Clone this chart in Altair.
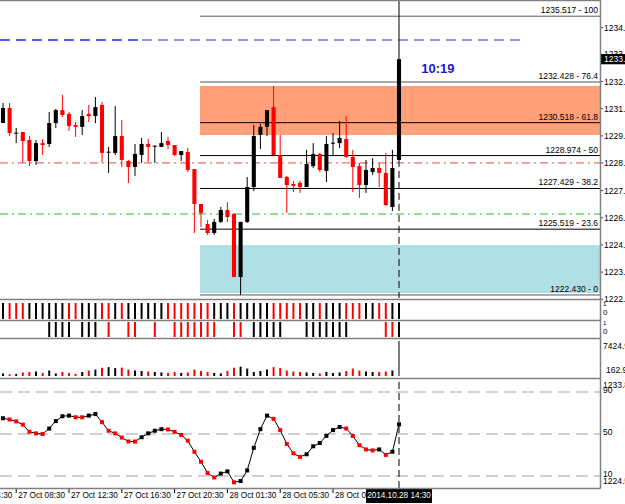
import altair as alt
import pandas as pd

# ---------------- data (M30 bars, index 0..60) ----------------
opens = [1230.50, 1231.21, 1230.03, 1230.08, 1229.71, 1228.72, 1229.56, 1229.52, 1230.50, 1231.11,
         1230.93, 1230.41, 1230.32, 1230.93, 1230.83, 1231.35, 1229.14, 1229.10, 1229.89, 1228.72,
         1228.44, 1229.00, 1229.52, 1229.42, 1229.38, 1229.66, 1229.47, 1229.00, 1229.14, 1228.34,
         1226.70, 1225.76, 1225.34, 1225.86, 1226.42, 1226.23, 1223.27, 1225.86, 1227.50, 1229.94,
         1230.32, 1231.25, 1229.00, 1227.97, 1227.64, 1227.69, 1227.50, 1228.48, 1229.05, 1228.25,
         1229.56, 1229.56, 1229.75, 1228.91, 1228.48, 1227.59, 1228.20, 1228.39, 1228.16, 1226.56,
         1228.77]
highs = [1231.44, 1231.44, 1230.27, 1230.08, 1229.89, 1229.71, 1229.75, 1231.02, 1231.16, 1231.82,
         1231.02, 1230.55, 1231.11, 1231.35, 1231.72, 1231.49, 1229.38, 1231.30, 1230.64, 1228.77,
         1229.52, 1229.80, 1229.75, 1229.44, 1230.08, 1229.85, 1229.47, 1229.19, 1229.33, 1228.34,
         1226.70, 1225.95, 1226.00, 1226.56, 1226.79, 1226.28, 1225.86, 1227.97, 1230.41, 1230.46,
         1231.11, 1232.24, 1229.94, 1228.02, 1227.78, 1227.78, 1229.24, 1229.56, 1229.10, 1229.89,
         1230.03, 1230.60, 1230.83, 1229.24, 1228.63, 1228.77, 1228.86, 1228.63, 1229.10, 1229.24,
         1233.55]
lows = [1230.50, 1229.89, 1229.56, 1228.63, 1228.48, 1228.53, 1229.00, 1229.38, 1230.27, 1230.79,
        1230.13, 1229.85, 1229.94, 1230.55, 1230.50, 1228.67, 1228.16, 1229.00, 1228.44, 1227.69,
        1228.02, 1228.63, 1228.67, 1228.63, 1229.38, 1229.28, 1228.95, 1228.72, 1228.20, 1225.34,
        1225.62, 1225.25, 1225.25, 1225.81, 1225.86, 1223.27, 1222.43, 1225.81, 1227.31, 1229.28,
        1229.89, 1229.00, 1227.92, 1226.28, 1227.26, 1227.22, 1227.50, 1228.39, 1228.20, 1227.73,
        1228.95, 1229.33, 1228.86, 1227.26, 1226.98, 1227.22, 1228.06, 1227.50, 1226.61, 1226.37,
        1228.77]
closes = [1231.21, 1230.03, 1230.05, 1229.66, 1228.72, 1229.56, 1229.47, 1230.50, 1231.11, 1230.88,
          1230.36, 1230.32, 1230.83, 1230.83, 1231.25, 1229.10, 1229.16, 1229.89, 1228.77, 1228.44,
          1229.05, 1229.52, 1229.38, 1229.44, 1229.56, 1229.47, 1229.00, 1229.19, 1228.30, 1226.70,
          1226.28, 1225.34, 1225.86, 1226.42, 1226.09, 1223.27, 1225.86, 1227.50, 1229.89, 1230.32,
          1231.11, 1229.00, 1227.92, 1227.59, 1227.55, 1227.50, 1228.58, 1229.05, 1228.30, 1229.52,
          1229.58, 1229.80, 1228.91, 1228.44, 1227.59, 1228.30, 1228.39, 1228.16, 1226.65, 1228.39,
          1233.50]

fib_levels = [1235.517, 1232.428, 1230.518, 1228.974, 1227.429, 1225.519, 1222.430]
fib_pcts = ["100", "76.4", "61.8", "50", "38.2", "23.6", "0"]
fib_start_bar = 29.85
zone_high = [1232.24, 1224.78]
zone_low = [1229.94, 1222.52]
zone_fill = ["#FFA07A", "#B0E0E6"]
red_level = 1228.63
green_level = 1226.23
blue_level = 1234.40
blue_split_bar = 21.06
blue_end_bar = 78.94
timer_text = "10:19"
timer_bar = 65.9
timer_price = 1233.04

price_tick_values = [1234.98, 1233.72, 1232.45, 1231.18, 1229.90, 1228.63, 1227.33, 1226.05,
                     1224.78, 1223.50, 1222.23]
price_tick_labels = ["1234.9", "1233.7", "1232.4", "1231.1", "1229.8", "1228.6", "1227.3",
                     "1226.0", "1224.7", "1223.4", "1222.2"]
current_price_label = "1233.5"

bin1 = ["b", "r", "r", "r", "b", "b", "b", "b", "b", "b", "r", "r", "b", "b", "b", "r", "r", "b",
        "r", "b", "b", "b", "b", "b", "b", "r", "r", "r", "r", "r", "r", "r", "b", "b", "b", "r",
        "b", "b", "b", "b", "b", "r", "r", "r", "r", "r", "b", "b", "r", "b", "b", "b", "r", "r",
        "r", "b", "b", "r", "r", "b", "b"]
bin2 = ["", "", "", "", "", "", "", "b", "b", "b", "b", "", "b", "b", "b", "", "r", "", "", "r",
        "r", "", "", "r", "", "", "r", "r", "r", "r", "r", "r", "r", "", "", "r", "r", "", "b",
        "b", "b", "b", "b", "", "", "", "b", "b", "b", "b", "b", "b", "b", "", "", "", "", "",
        "r", "r", "b"]

vol = [700, 500, 600, 900, 1000, 1100, 800, 1300, 700, 1000, 800, 600, 1000, 1300, 1500, 1900,
       2000, 1800, 1900, 1500, 1300, 1200, 1100, 1000, 900, 800, 1000, 800, 900, 1500, 1200, 1000,
       800, 700, 1200, 1900, 2100, 1700, 1000, 1200, 1500, 2000, 1800, 1300, 1100, 1000, 900, 800,
       700, 1000, 800, 900, 1200, 1700, 1300, 1100, 1000, 1000, 1100, 1300, 7424.9]
vol_min, vol_max = 162.9, 7424.9

osc = [65.0, 63.8, 62.0, 58.9, 52.1, 50.6, 50.0, 55.2, 62.3, 66.9, 67.5, 66.0, 65.9, 67.5, 69.0,
       61.3, 53.1, 50.6, 46.6, 42.9, 42.8, 46.9, 50.6, 53.1, 54.6, 54.3, 52.1, 49.1, 43.6, 33.1,
       23.6, 12.9, 8.6, 12.3, 14.4, 4.0, 5.2, 15.3, 36.8, 54.6, 67.5, 64.4, 53.7, 40.5, 31.6, 28.2,
       30.7, 38.3, 41.4, 48.2, 53.7, 56.7, 55.2, 48.2, 39.3, 35.3, 34.4, 35.3, 30.1, 33.1, 59.2]
osc_levels = [90, 50, 10]

time_bars = [-6, 2, 10, 18, 26, 34, 42, 50]
time_labels = ["27 Oct 04:30", "27 Oct 08:30", "27 Oct 12:30", "27 Oct 16:30", "27 Oct 20:30",
               "28 Oct 01:30", "28 Oct 05:30", "28 Oct 09:30"]
cursor_bar = 60
cursor_label = "2014.10.28 14:30"

# ---------------- scales / helpers ----------------
FONT = "Liberation Sans"
FS = 8.2
RED, BLACK = "#FF0000", "#000000"
X_MIN, X_MAX = -3 / 6.6, 597 / 6.6
XSC = alt.Scale(domain=[X_MIN, X_MAX], range=[0, 600], nice=False, zero=False)


def xf(f):
    return alt.X(f"{f}:Q", scale=XSC, axis=None)


def yf(f, dom, rng):
    return alt.Y(f"{f}:Q", scale=alt.Scale(domain=dom, range=rng, nice=False, zero=False), axis=None)


MAIN_DOM, MAIN_RNG = [1222.287, 1236.278], [298, 0]
B1_DOM, B1_RNG = [0, 1], [319, 303]
B2_DOM, B2_RNG = [0, 1], [337, 322]
V_DOM, V_RNG = [vol_min, vol_max], [376, 341]
O_DOM, O_RNG = [50 - 54 / 1.05, 50 + 54 / 1.05], [488, 380]


def ym(f):
    return yf(f, MAIN_DOM, MAIN_RNG)


n = len(opens)
cdf = pd.DataFrame({"i": list(range(n)), "o": opens, "h": highs, "l": lows, "c": closes})
cdf["col"] = [BLACK if c >= o else RED for o, c in zip(opens, closes)]
cdf["top"] = [max(o, c) for o, c in zip(opens, closes)]
cdf["bot"] = [min(min(o, c), max(o, c) - 0.05) for o, c in zip(opens, closes)]
cdf["xa"] = cdf["i"] - 0.31
cdf["xb"] = cdf["i"] + 0.31

# ---------------- main price panel ----------------
zdf = pd.DataFrame({"x0": [fib_start_bar] * 2, "x1": [X_MAX] * 2, "hi": zone_high, "lo": zone_low,
                    "c": zone_fill})
zones = alt.Chart(zdf).mark_rect().encode(x=xf("x0"), x2="x1", y=ym("hi"), y2="lo",
                                          color=alt.Color("c:N", scale=None))

red_dd = alt.Chart(pd.DataFrame({"y": [red_level]})).mark_rule(
    color="#FF6A6A", strokeWidth=1.3, strokeDash=[8, 4, 2, 4]).encode(
    x=alt.value(0), x2=alt.value(600), y=ym("y"))
green_dd = alt.Chart(pd.DataFrame({"y": [green_level]})).mark_rule(
    color="#6ADC6A", strokeWidth=1.3, strokeDash=[8, 4, 2, 4]).encode(
    x=alt.value(0), x2=alt.value(600), y=ym("y"))

bdf = pd.DataFrame({"x0": [X_MIN, blue_split_bar], "x1": [blue_split_bar, blue_end_bar],
                    "y": [blue_level] * 2, "c": ["#2828FF", "#7070FF"]})
blue = alt.Chart(bdf).mark_rule(strokeWidth=1.5, strokeDash=[10, 6]).encode(
    x=xf("x0"), x2="x1", y=ym("y"), color=alt.Color("c:N", scale=None))

fdf = pd.DataFrame({"lvl": fib_levels, "pct": fib_pcts, "x0": [fib_start_bar] * 7,
                    "x1": [X_MAX] * 7,
                    "c": ["#555555", "#555555", BLACK, BLACK, BLACK, BLACK, "#555555"]})
fdf["label"] = [f"{v:.3f} - {p}" for v, p in zip(fib_levels, fib_pcts)]
fib_lines = alt.Chart(fdf).mark_rule(strokeWidth=1).encode(
    x=xf("x0"), x2="x1", y=ym("lvl"), color=alt.Color("c:N", scale=None))
fib_text = alt.Chart(fdf).mark_text(align="right", baseline="bottom", dy=-1, fontSize=FS + 0.3,
                                    font=FONT, color=BLACK).encode(
    x=alt.value(598), y=ym("lvl"), text="label:N")

cur = cdf[cdf["i"] == cursor_bar].copy()
cur["ytop"] = MAIN_DOM[1]
cur["ybot"] = MAIN_DOM[0]
cross_top = alt.Chart(cur).mark_rule(color=BLACK, strokeWidth=1).encode(
    x=xf("i"), y=ym("h"), y2="ytop")
cross_bot = alt.Chart(cur).mark_rule(color=BLACK, strokeWidth=1, strokeDash=[7, 4]).encode(
    x=xf("i"), y=ym("l"), y2="ybot")

wicks = alt.Chart(cdf).mark_rule(strokeWidth=1).encode(
    x=xf("i"), y=ym("l"), y2="h", color=alt.Color("col:N", scale=None))
bodies = alt.Chart(cdf).mark_rect().encode(
    x=xf("xa"), x2="xb", y=ym("top"), y2="bot", color=alt.Color("col:N", scale=None))

timer = alt.Chart(pd.DataFrame({"x": [timer_bar], "y": [timer_price], "t": [timer_text]})).mark_text(
    fontSize=13, fontWeight="bold", font=FONT, color="#1A1AC8").encode(
    x=xf("x"), y=ym("y"), text="t:N")

tdf = pd.DataFrame({"v": price_tick_values, "t": price_tick_labels})
ptick = alt.Chart(tdf).mark_rule(color="#404040").encode(
    x=alt.value(600), x2=alt.value(603), y=ym("v"))
plab = alt.Chart(tdf).mark_text(align="left", baseline="middle", fontSize=FS + 0.3, font=FONT,
                                color=BLACK).encode(x=alt.value(604), y=ym("v"), text="t:N")

cp = pd.DataFrame({"y": [closes[-1]], "t": [current_price_label],
                   "y0": [closes[-1] + 0.24], "y1": [closes[-1] - 0.24]})
cp_box = alt.Chart(cp).mark_rect(color=BLACK).encode(
    x=alt.value(601), x2=alt.value(625), y=ym("y0"), y2="y1")
cp_txt = alt.Chart(cp).mark_text(align="left", baseline="middle", fontSize=FS + 0.3, font=FONT,
                                 color="#FFFFFF").encode(x=alt.value(604), y=ym("y"), text="t:N")

main = alt.layer(zones, red_dd, green_dd, blue, fib_lines, cross_top, cross_bot, wicks, bodies,
                 fib_text, timer, ptick, plab, cp_box, cp_txt)


# ---------------- binary panels ----------------
def binary_panel(vals, dom, rng):
    d = pd.DataFrame({"i": list(range(len(vals))), "s": vals})
    d = d[d["s"] != ""].copy()
    d["col"] = [RED if s == "r" else BLACK for s in d["s"]]
    d["lo"] = 0
    d["hi"] = 1
    bars = alt.Chart(d).mark_rule(strokeWidth=2).encode(
        x=xf("i"), y=yf("lo", dom, rng), y2="hi", color=alt.Color("col:N", scale=None))
    lab = pd.DataFrame({"v": [0.95, 0.35], "t": ["1", "0"], "s": [6, 8]})
    txt = alt.Chart(lab).mark_text(align="left", baseline="middle", font=FONT, color=BLACK).encode(
        x=alt.value(603), y=yf("v", dom, rng), text="t:N",
        size=alt.Size("s:Q", scale=None))
    return alt.layer(bars, txt)


b1 = binary_panel(bin1, B1_DOM, B1_RNG)
b2 = binary_panel(bin2, B2_DOM, B2_RNG)

# ---------------- volume-like panel ----------------
vdf = pd.DataFrame({"i": list(range(n)), "v": vol, "base": [vol_min] * n})
vdf["col"] = [BLACK if c >= o else RED for o, c in zip(opens, closes)]
vdf["w"] = [2] * (n - 1) + [1]
vbars = alt.Chart(vdf).mark_rule().encode(
    x=xf("i"), y=yf("base", V_DOM, V_RNG), y2="v", color=alt.Color("col:N", scale=None),
    strokeWidth=alt.StrokeWidth("w:Q", scale=None))
vlab = pd.DataFrame({"v": [vol_max, vol_min], "t": ["7424.9", "162.9"]})
vtxt_top = alt.Chart(vlab.iloc[[0]]).mark_text(align="left", baseline="top", dy=1, fontSize=FS + 0.3,
                                                font=FONT, color=BLACK).encode(
    x=alt.value(603), y=yf("v", V_DOM, V_RNG), text="t:N")
vtxt_bot = alt.Chart(vlab.iloc[[1]]).mark_text(align="left", baseline="bottom", dy=-1,
                                                fontSize=FS + 0.3, font=FONT, color=BLACK).encode(
    x=alt.value(606), y=yf("v", V_DOM, V_RNG), text="t:N")
vol_panel = alt.layer(vbars, vtxt_top, vtxt_bot)

# ---------------- oscillator panel ----------------
odf = pd.DataFrame({"i": list(range(n)), "v": osc})
odf["col"] = [BLACK] + [BLACK if osc[k] > osc[k - 1] else RED for k in range(1, n)]
lvl_df = pd.DataFrame({"v": osc_levels, "t": [str(v) for v in osc_levels]})
olevels = alt.Chart(lvl_df).mark_rule(color="#D0D0D0", strokeWidth=2, strokeDash=[12, 6]).encode(
    x=alt.value(0), x2=alt.value(600), y=yf("v", O_DOM, O_RNG))
ocross = alt.Chart(pd.DataFrame({"i": [cursor_bar], "a": [O_DOM[0]], "b": [O_DOM[1]]})).mark_rule(
    color=BLACK, strokeDash=[7, 4]).encode(x=xf("i"), y=yf("a", O_DOM, O_RNG), y2="b")
oline = alt.Chart(odf).mark_line(color=BLACK, strokeWidth=1).encode(
    x=xf("i"), y=yf("v", O_DOM, O_RNG))
opts = alt.Chart(odf).mark_square(size=16, opacity=1).encode(
    x=xf("i"), y=yf("v", O_DOM, O_RNG), color=alt.Color("col:N", scale=None))
otxt = alt.Chart(lvl_df).mark_text(align="left", baseline="middle", dy=-2, fontSize=FS + 0.3,
                                   font=FONT, color=BLACK).encode(
    x=alt.value(603), y=yf("v", O_DOM, O_RNG), text="t:N")
oext = pd.DataFrame({"v": [O_DOM[1], O_DOM[0]], "t": ["1233.8", "1224.5"]})
otxt_top = alt.Chart(oext.iloc[[0]]).mark_text(align="left", baseline="top", dy=1, fontSize=FS + 0.3,
                                                font=FONT, color=BLACK).encode(
    x=alt.value(603), y=yf("v", O_DOM, O_RNG), text="t:N")
otxt_bot = alt.Chart(oext.iloc[[1]]).mark_text(align="left", baseline="bottom", dy=-2,
                                                fontSize=FS + 0.3, font=FONT, color=BLACK).encode(
    x=alt.value(603), y=yf("v", O_DOM, O_RNG), text="t:N")
osc_panel = alt.layer(olevels, ocross, oline, opts, otxt, otxt_top, otxt_bot)

# ---------------- time axis ----------------
tmdf = pd.DataFrame({"i": time_bars, "t": time_labels})
tticks = alt.Chart(tmdf).mark_rule(color=BLACK).encode(x=xf("i"), y=alt.value(488), y2=alt.value(493))
tlabels = alt.Chart(tmdf).mark_text(align="left", baseline="middle", dx=2, fontSize=FS, font=FONT,
                                    color=BLACK).encode(x=xf("i"), y=alt.value(496), text="t:N")
cbox_df = pd.DataFrame({"i": [cursor_bar], "a": [cursor_bar - 5.0], "b": [cursor_bar + 5.0],
                        "t": [cursor_label]})
cbox = alt.Chart(cbox_df).mark_rect(color=BLACK).encode(
    x=xf("a"), x2="b", y=alt.value(489), y2=alt.value(503))
ctxt = alt.Chart(cbox_df).mark_text(baseline="middle", fontSize=FS, font=FONT, color="#FFFFFF").encode(
    x=xf("i"), y=alt.value(496), text="t:N")
time_axis = alt.layer(tticks, tlabels, cbox, ctxt)

# ---------------- frame (layout lines, pixel units) ----------------
sep = pd.DataFrame({"y": [0.5, 299.5, 320.5, 338.5, 378.5, 488.5]})
hsep = alt.Chart(sep).mark_rule(color="#808080", strokeWidth=1.5).encode(
    x=alt.value(0), x2=alt.value(600.5), y=alt.Y("y:Q", scale=None))
vsep = alt.Chart(pd.DataFrame({"a": [0], "b": [488.5]})).mark_rule(
    color="#808080", strokeWidth=1.5).encode(
    x=alt.value(600.5), y=alt.Y("a:Q", scale=None), y2="b")
frame = alt.layer(hsep, vsep)

chart = alt.layer(main, b1, b2, vol_panel, osc_panel, time_axis, frame).resolve_scale(
    y="independent", size="independent", strokeWidth="independent"
).properties(
    width=625, height=504, autosize=alt.AutoSizeParams(type="none"), padding=0,
    background="#FFFFFF"
).configure_view(stroke=None)

chart.save("out.html", embed_options={"renderer": "svg", "actions": False})
